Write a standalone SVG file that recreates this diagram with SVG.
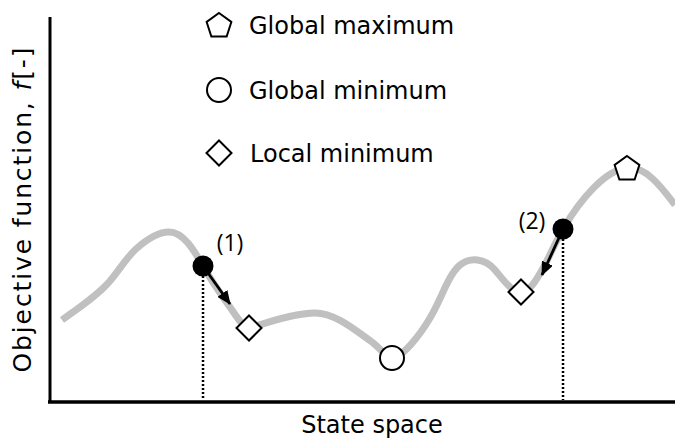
<svg xmlns="http://www.w3.org/2000/svg" width="675" height="439" viewBox="0 0 675 439">
<defs>
<style>
.axis{stroke:#000;stroke-width:3;fill:none}
.curve{stroke:#c0c0c0;stroke-width:7;fill:none;stroke-linecap:butt;stroke-linejoin:round}
.dot{stroke:#000;stroke-width:2.5;stroke-dasharray:2,2;fill:none}
.mk{fill:#fff;stroke:#000;stroke-width:2}
.ball{fill:#000}
.arr{stroke:#000;stroke-width:2.8;fill:none}
.lab{font-family:"DejaVu Sans",Verdana,sans-serif;fill:#000}
.num{font-family:"Open Sans","DejaVu Sans",sans-serif;font-size:23px;fill:#000}
.leg{font-family:"DejaVu Sans",sans-serif;font-size:24px;fill:#000}
</style>
<path id="pent" d="M0,-13 L12.36,-4.02 L7.64,10.52 L-7.64,10.52 L-12.36,-4.02 Z"/>
<path id="dia" d="M0,-12.5 L12.5,0 L0,12.5 L-12.5,0 Z"/>
<marker id="ah" markerWidth="14" markerHeight="12" refX="13" refY="6" orient="auto" markerUnits="userSpaceOnUse">
<path d="M0,0 L14,6 L0,12 Z" fill="#000"/>
</marker>
</defs>
<rect width="675" height="439" fill="#fff"/>
<g id="axes">
<line class="axis" x1="50" y1="17" x2="50" y2="403"/>
<line class="axis" x1="48" y1="402" x2="675" y2="402" style="stroke-width:3.5"/>
<text class="lab" x="372" y="433" font-size="24" text-anchor="middle">State space</text>
<text class="lab" transform="translate(31,210) rotate(-90)" font-size="25" text-anchor="middle" textLength="325" lengthAdjust="spacing">Objective function, <tspan font-style="italic">f</tspan>[-]</text>
</g>
<g id="landscape">
<path class="curve" d="M62,320 C80,307 98,295 110,281 C120,269 127,257 136,249 C146,240 158,232 169,232 C184,232 195,252 203,266 C212,282 222,296 232,310 C240,322 244,328 252,327 C270,322 295,313 315,313 C335,313 355,330 372,342 C382,350 387,358 392,358 C402,358 420,335 430,318 C442,298 448,275 460,265 C470,257 485,258 495,270 C505,282 512,292 521,292 C530,292 536,280 542,270 C548,260 555,243 563,229 C580,200 605,170 627,168 C645,166 660,185 675,205"/>
</g>
<g id="connectors">
<line class="dot" x1="203" y1="276" x2="203" y2="400"/>
<line class="dot" x1="563" y1="239" x2="563" y2="400"/>
<line class="arr" x1="203" y1="266" x2="230" y2="304" marker-end="url(#ah)"/>
<line class="arr" x1="563" y1="229" x2="542" y2="275" marker-end="url(#ah)"/>
</g>
<g id="point1">
<circle class="ball" cx="203" cy="266" r="10.5"/>
<text class="num" x="230" y="251" text-anchor="middle">(1)</text>
</g>
<g id="point2">
<circle class="ball" cx="563" cy="229" r="10.5"/>
<text class="num" x="532" y="229" text-anchor="middle">(2)</text>
</g>
<g id="localmin1"><use href="#dia" class="mk" x="249" y="328"/></g>
<g id="globalmin"><circle class="mk" cx="392" cy="358" r="12"/></g>
<g id="localmin2"><use href="#dia" class="mk" x="521" y="292"/></g>
<g id="globalmax"><use href="#pent" class="mk" x="627" y="169"/></g>
<g id="legend">
<use href="#pent" class="mk" x="219" y="26"/>
<text class="leg" x="249" y="34">Global maximum</text>
<circle class="mk" cx="219" cy="90" r="12"/>
<text class="leg" x="249" y="99">Global minimum</text>
<use href="#dia" class="mk" x="219" y="153"/>
<text class="leg" x="250" y="162">Local minimum</text>
</g>
</svg>
